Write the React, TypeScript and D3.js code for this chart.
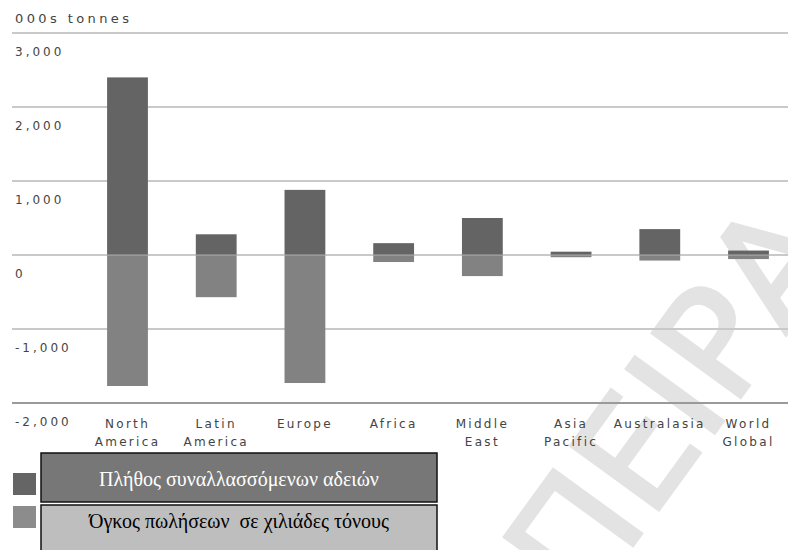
import React from "react";
import * as d3 from "d3";

const categories: string[][] = [
  ["North", "America"],
  ["Latin", "America"],
  ["Europe"],
  ["Africa"],
  ["Middle", "East"],
  ["Asia", "Pacific"],
  ["Australasia"],
  ["World", "Global"],
];
const permitsTraded: number[] = [2400, 280, 880, 160, 500, 45, 350, 60];
const salesVolume: number[] = [-1770, -570, -1730, -95, -285, -30, -75, -55];
const yTicks: number[] = [3000, 2000, 1000, 0, -1000, -2000];
const unitLabel = "000s tonnes";
const legendLabels: string[] = [
  "Πλήθος συναλλασσόμενων αδειών",
  "Όγκος πωλήσεων  σε χιλιάδες τόνους",
];

const W = 788;
const H = 550;

export default function App() {
  const keys = categories.map((c) => c.join(" "));
  const x = d3.scalePoint<string>().domain(keys).range([127.5, 748.5]).padding(0);
  const bw = x.step() * 0.46;
  const y = d3.scaleLinear().domain([-2000, 3000]).range([403, 33]);
  const fmt = d3.formatLocale({ decimal: ".", thousands: ",", grouping: [3], currency: ["", ""], minus: "-" }).format(",");
  const sans = "'DejaVu Sans', Verdana, sans-serif";
  const serif = "'Liberation Serif', 'Times New Roman', serif";
  const txt = "#444";

  return (
    <svg
      width={W}
      height={H}
      style={{ position: "absolute", left: 0, top: 0, display: "block", background: "#fff" }}
    >
      <rect x={0} y={0} width={W} height={H} fill="#fff" />
      {/* watermark */}
      <text
        transform="translate(584,613) rotate(-54)"
        fontFamily={sans}
        fontSize={150}
        fill="#e3e3e3"
        stroke="#e3e3e3"
        strokeWidth={3}
      >
        ΠΕΙΡΑ
      </text>

      <text x={15} y={23} fontFamily={sans} fontSize={13} letterSpacing={3.4} fill={txt}>
        {unitLabel}
      </text>

      {yTicks.map((t) => (
        <g key={t}>
          <line
            x1={12}
            x2={W}
            y1={y(t)}
            y2={y(t)}
            stroke={t === -2000 ? "#9a9a9a" : "#c9c9c9"}
            strokeWidth={2}
          />
          <text x={15} y={y(t) + 23} fontFamily={sans} fontSize={12} letterSpacing={3} fill={txt}>
            {fmt(t)}
          </text>
        </g>
      ))}

      {keys.map((k, i) => (
        <g key={k}>
          <rect
            x={(x(k) as number) - bw / 2}
            y={y(permitsTraded[i])}
            width={bw}
            height={y(0) - y(permitsTraded[i])}
            fill="#646464"
          />
          <rect
            x={(x(k) as number) - bw / 2}
            y={y(0)}
            width={bw}
            height={y(salesVolume[i]) - y(0)}
            fill="#828282"
          />
        </g>
      ))}

      <line x1={12} x2={W} y1={y(0)} y2={y(0)} stroke="#c9c9c9" strokeOpacity={0.35} strokeWidth={2} />

      {categories.map((lines, i) => (
        <text
          key={i}
          x={x(keys[i]) as number}
          y={428}
          textAnchor="middle"
          fontFamily={sans}
          fontSize={12}
          letterSpacing={2.3}
          fill={txt}
        >
          {lines.map((l, j) => (
            <tspan key={j} x={x(keys[i]) as number} dy={j === 0 ? 0 : 18}>
              {l}
            </tspan>
          ))}
        </text>
      ))}

      {/* legend */}
      <rect x={13} y={473} width={23} height={22} fill="#656565" />
      <rect x={13} y={506} width={23} height={22} fill="#8c8c8c" />
      <rect x={41} y={453} width={396} height={49} fill="#777777" stroke="#111" strokeWidth={1.5} />
      <rect x={41} y={505} width={396} height={50} fill="#bebebe" stroke="#111" strokeWidth={1.5} />
      <text x={239} y={486} textAnchor="middle" fontFamily={serif} fontSize={20} fill="#fff">
        {legendLabels[0]}
      </text>
      <text x={239} y={528} textAnchor="middle" fontFamily={serif} fontSize={20} fill="#000" style={{ whiteSpace: "pre" }}>
        {legendLabels[1]}
      </text>
    </svg>
  );
}
